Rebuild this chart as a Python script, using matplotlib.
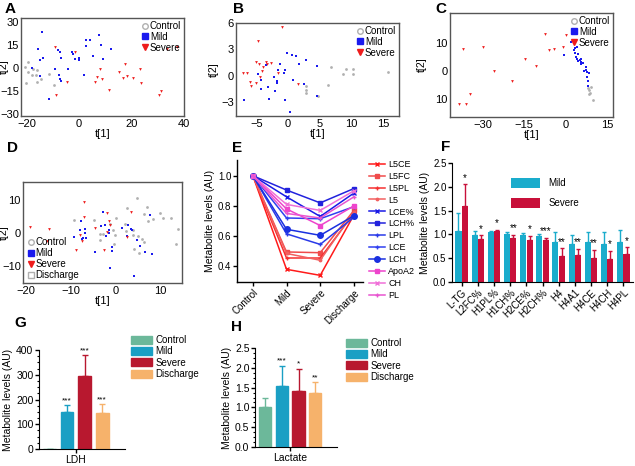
import numpy as np
import matplotlib
matplotlib.use("Agg")
import matplotlib.pyplot as plt
from matplotlib.lines import Line2D
from matplotlib.patches import Patch

# ---- data: score plots (t[1], t[2]) ----
a_ctrl_x = [-20.6, -19.6, -19.6, -20.3, -17.8, -16.3, -15.9, -15.9, -14.4, -11.6, -9.6, -17.5]
a_ctrl_y = [1.1, 4.4, -2.6, -9.8, -4.4, -4.4, -1.1, -8.7, -7.2, -3.7, -10.9, -0.7]
a_mild_x = [-14, -15.75, -13.6, -15, -17.75, -14.9, -9, -8, -7.1, -7, -7.75, -7.1, -6.9, -4.1, -2.75,
            -2.25, -1.5, -0.1, 0.1, 1.9, 2.6, 2.75, 4, 5.5, 7.75, 8.5, 9.25, 12.25, -11.5]
a_mild_y = [24, 12.7, 7.0, 5.5, 0, -4.8, -0.2, 12.0, 10.9, 7.0, -4.6, -7.2, -7.9, -0.4, 10.9,
            9.2, 6.1, 6.6, 5.5, -4.6, 18.6, 14.6, 18.6, 8.3, 21.8, 15.3, 6.3, 12.7, -20.1]
a_sev_x = [-9.1, -1.5, -4.4, -8.6, 6.25, 7, 8.1, 8.9, 11.4, 15.25, 16.9, 17.5, 18.25, 20.5, 23.1,
           23.75, 30.5, 31.25, 33.4, 37.5]
a_sev_y = [14.2, 10.5, -9.0, -17.5, -8.7, -5.5, -0.4, -7.0, -14.0, -2.2, -6.3, 2.8, -5.2, -6.3, -0.2,
           -9.6, -17.5, -14.6, 12.9, 14.0]

b_ctrl_x = [2.9, 2.8, 2.9, 4.7, 6.3, 6.8, 8.7, 9.2, 10.3, 10.3, 15.8]
b_ctrl_y = [-1.2, -1.6, -2.0, -2.3, -1.1, 1.0, 0.15, 0.7, 0.8, 0.15, 0.4]
b_mild_x = [-6.9, -4.8, -4.2, -4.2, -3.5, -3.2, -3.0, -2.2, -1.8, -1.7, -1.5, -1.3, -0.6, -0.5, -0.4,
            -0.1, 0.3, 0.7, 1.2, 1.8, 0.8, 2.8, 2.5, 4.5, 4.5, -2.0]
b_mild_y = [-2.8, 0.2, -0.45, -1.5, 1.2, -1.35, -2.7, -0.1, -0.8, -0.6, 0.6, 1.35, 0.25, -2.8, 0.6,
            2.6, -4.1, 2.3, 2.2, 1.35, -0.55, 1.8, -0.9, 1.05, -2.3, -1.8]
b_sev_x = [-0.9, -4.8, -7.1, -6.4, -6.05, -5.9, -5.0, -5.0, -4.6, -4.4, -4.05, -3.9, -3.4, -3.3, -2.7,
           -1.6, 1.6]
b_sev_y = [5.5, 4.0, 0.3, 0.3, -0.7, -1.2, -0.8, 1.5, 1.35, -0.15, 0.5, 1.0, 1.5, 1.3, 1.4, 0.3, -0.9]

c_ctrl_x = [8.0, 8.4, 8.6, 8.2, 9.8, 8.9]
c_ctrl_y = [-6.2, -6.8, -7.7, -8.3, -10.4, -5.8]
c_mild_x = [2.0, -0.7, 2.9, 3.2, 3.4, 3.6, 4.1, 4.4, 5.0, 5.6, 5.4, 6.2, 7.1, 7.4, 6.6, 7.7, 8.3, 7.8,
            8.0, 8.0, 4.4, 4.1, 5.6]
c_mild_y = [10.4, 5.6, 7.6, 8.4, 6.4, 5.2, 4.3, 3.7, 4.0, 3.4, 2.6, 2.8, 1.6, 0.4, 0.2, -0.2, -0.8, -2.0,
            -3.5, -5.3, 6.2, 8.8, 4.5]
c_sev_x = [-37, -29.8, -25.9, -19.6, -14.8, -10.9, -7.6, -6.0, -4.3, -1.0, -0.1, -34.6, -36.0, -38.5]
c_sev_y = [7.8, 8.6, 0.2, -3.4, 4.4, 2.0, 13.2, 7.4, 8.0, 8.6, 12.8, -8.0, -11.8, -11.9]

d_grey_x = [-9.25, -4.85, -3.4, -1.3, -0.5, -0.15, 0.1, 2.1, 2.3, 2.6, 3.8, 3.8, 4.7, 4.9, 4.0, 5.1,
            5.8, 6.3, 6.9, 7.2, 6.3, 8.4, 9.9, 10.5, 12.4, 13.8, 13.4, -3.5, -0.3, -2.8]
d_grey_y = [4.0, 4.0, -2.0, 2.8, 1.0, -0.7, 4.6, 2.8, 0.6, 7.4, 1.0, -0.7, 10.6, -0.9, -4.7, -5.9,
            -1.9, 5.8, 7.8, 3.5, -2.7, 4.3, 6.0, 4.5, 4.6, 1.1, -3.2, -0.4, -3.2, -0.2]
d_mild_x = [-9.25, -8.0, -7.8, -7.6, -6.9, -6.9, -7.4, -6.7, -4.6, -3.3, -2.9, -2.4, -2.2, -1.4, -1.4,
            -1.3, -0.9, -0.9, 1.3, 2.8, 2.5, 3.4, 3.6, 4.7, 5.4, 6.6, 7.7, 8.2, 4.0]
d_mild_y = [-1.3, 0.8, 3.5, -1.9, 1.1, 0, -1.5, -1.5, -5.7, 2.0, 6.3, 2.3, -1.0, 1.0, 0,
            -10.5, -4.2, -5.5, 1.6, 2.3, -0.9, 1.3, 1.0, -2.2, -3.9, -5.7, 5.3, -6.2, -13.0]
d_sev_x = [-19.2, -14.85, -15.4, -8.9, -8.0, -7.0, -7.0, -7.5, -4.6, -2.6, -2.0, -1.6, -1.3, -1.9, 2.5, 3.4]
d_sev_y = [1.8, 1.3, -2.5, -5.2, -0.7, 9.3, 4.8, -2.4, 1.5, -5.2, 6.0, 3.6, 2.5, 0.3, -1.2, 6.3]

# ---- data: panel E ----
e_groups = ["Control", "Mild", "Severe", "Discharge"]
e_names = ["L5CE", "L5FC", "L5PL", "L5", "LCE%", "LCH%", "LPL", "LCE", "LCH", "ApoA2", "CH", "PL"]
e_values = {
    "L5CE": [1.0, 0.38, 0.34, 0.74],
    "L5FC": [1.0, 0.495, 0.49, 0.77],
    "L5PL": [1.0, 0.455, 0.455, 0.75],
    "L5": [1.0, 0.485, 0.44, 0.76],
    "LCE%": [1.0, 0.86, 0.73, 0.885],
    "LCH%": [1.0, 0.905, 0.82, 0.915],
    "LPL": [1.0, 0.615, 0.545, 0.725],
    "LCE": [1.0, 0.72, 0.715, 0.795],
    "LCH": [1.0, 0.645, 0.605, 0.735],
    "ApoA2": [1.0, 0.78, 0.67, 0.80],
    "CH": [1.0, 0.81, 0.77, 0.90],
    "PL": [1.0, 0.75, 0.72, 0.86],
}

# ---- data: panel F ----
f_labels = ["L-TG", "L2FC%", "H1PL%", "H1CH%", "H2CE%", "H2CH%", "H4", "H4A1", "H4CE", "H4CH", "H4PL"]
f_mild = [1.07, 0.98, 1.04, 1.00, 0.98, 0.96, 0.83, 0.80, 0.83, 0.80, 0.84]
f_mild_top = [1.46, 1.08, 1.08, 1.05, 1.03, 1.00, 1.06, 0.98, 1.06, 1.06, 1.09]
f_sev = [1.60, 0.91, 1.08, 0.92, 0.88, 0.88, 0.55, 0.56, 0.51, 0.49, 0.58]
f_sev_top = [2.05, 0.98, 1.10, 0.99, 0.97, 0.93, 0.71, 0.70, 0.68, 0.66, 0.73]
f_stars = ["*", "*", "*", "**", "*", "***", "**", "**", "**", "*", "*"]

# ---- data: panels G, H ----
groups = ["Control", "Mild", "Severe", "Discharge"]
g_vals = [2, 150, 295, 145]
g_top = [2, 178, 380, 180]
g_stars = ["", "***", "***", "***"]
h_vals = [1.0, 1.55, 1.41, 1.37]
h_top = [1.23, 2.05, 1.98, 1.63]
h_stars = ["", "***", "*", "**"]

W, H = 635, 466
fig = plt.figure(figsize=(W / 100, H / 100), dpi=100)
plt.rcParams['font.family'] = ['Liberation Sans', 'DejaVu Sans']


def ax_px(l, t, r, b):
    return fig.add_axes([l / W, 1 - b / H, (r - l) / W, (b - t) / H])


def letter(x, y, s):
    fig.text(x / W, 1 - y / H, s, fontsize=11, fontweight='bold', ha='center', va='center')


GREY = '#b0b0b0'
BLUE = '#1a1aee'
RED = '#ee1c1c'


def score_plot(ax, groups_xy, xlim, ylim, xticks, yticks, ylab_x, ytl=None, legend_loc='upper right',
               discharge=False):
    for (xs, ys, c, m) in groups_xy:
        ax.scatter(xs, ys, s=4, c=c, marker=m, linewidths=0)
    ax.set_xlim(xlim)
    ax.set_ylim(ylim)
    ax.set_xticks(xticks)
    ax.set_yticks(yticks)
    if ytl is not None:
        ax.set_yticklabels(ytl)
    ax.tick_params(labelsize=8, length=0, pad=2)
    ax.tick_params(axis='y', pad=1.5)
    for sp in ax.spines.values():
        sp.set_color('#555555')
        sp.set_linewidth(1.0)
    ax.set_xlabel('t[1]', fontsize=8, labelpad=0)
    ax.set_ylabel('t[2]', fontsize=7.5)
    ax.yaxis.set_label_coords(ylab_x, 0.5)
    hs = [Line2D([], [], ls='none', marker='o', mfc='none', mec=GREY, ms=4, label='Control'),
          Line2D([], [], ls='none', marker='s', color=BLUE, ms=4, label='Mild'),
          Line2D([], [], ls='none', marker='v', color=RED, ms=4, label='Severe')]
    if discharge:
        hs.append(Line2D([], [], ls='none', marker='s', mfc='none', mec=GREY, ms=4, label='Discharge'))
    ax.legend(handles=hs, loc=legend_loc, fontsize=7, frameon=False, handletextpad=0.0,
              borderpad=0.2, labelspacing=0.1, handlelength=1.0, borderaxespad=0.1)


# A
ax = ax_px(21, 18, 184, 116)
score_plot(ax, [(a_ctrl_x, a_ctrl_y, GREY, 'o'), (a_mild_x, a_mild_y, BLUE, 's'),
                (a_sev_x, a_sev_y, RED, 'v')],
           (-22.1, 39.1), (-31, 32.8), [-20, 0, 20, 40], [-30, -15, 0, 15, 30], -0.075)
letter(10, 9, 'A')

# B
ax = ax_px(236, 23, 399, 116)
score_plot(ax, [(b_ctrl_x, b_ctrl_y, GREY, 'o'), (b_mild_x, b_mild_y, BLUE, 's'),
                (b_sev_x, b_sev_y, RED, 'v')],
           (-8.2, 17.5), (-4.6, 6.0), [-5, 0, 5, 10, 15], [-3, 0, 3, 6], -0.105)
letter(239, 9, 'B')

# C
ax = ax_px(450, 13, 613, 117)
score_plot(ax, [(c_ctrl_x, c_ctrl_y, GREY, 'o'), (c_mild_x, c_mild_y, BLUE, 's'),
                (c_sev_x, c_sev_y, RED, 'v')],
           (-41.8, 17.0), (-16.4, 20.8), [-30, -15, 0, 15], [-10, 0, 10], -0.14,
           ytl=['10', '0', '10'])
letter(441, 9, 'C')

# D
ax = ax_px(23, 182, 182, 283)
score_plot(ax, [(d_grey_x, d_grey_y, GREY, 'o'), (d_mild_x, d_mild_y, BLUE, 's'),
                (d_sev_x, d_sev_y, RED, 'v')],
           (-20.7, 14.8), (-15, 15.3), [-20, -10, 0, 10], [-10, 0, 10], -0.088,
           legend_loc='lower left', discharge=True)
letter(12, 148, 'D')

# E
e_colors = {"L5CE": '#ff1a1a', "L5FC": '#f04b4b', "L5PL": '#f53030', "L5": '#f26060',
            "LCE%": '#1a1ae6', "LCH%": '#2222dd', "LPL": '#2a3ae8', "LCE": '#3040f0', "LCH": '#1a30e0',
            "ApoA2": '#ee44cc', "CH": '#f070d8', "PL": '#e855d0'}
e_markers = {"L5CE": 'x', "L5FC": 's', "L5PL": '+', "L5": '.', "LCE%": 'x', "LCH%": 's', "LPL": '+',
             "LCE": '+', "LCH": 'o', "ApoA2": 's', "CH": 'x', "PL": '+'}
ax = ax_px(237, 160, 363, 282)
xs = np.arange(len(e_groups))
for n in e_names:
    ax.plot(xs, e_values[n], color=e_colors[n], marker=e_markers[n], ms=3.5 if e_markers[n] != 'o' else 4,
            lw=1.1, mew=1.0, label=n)
ax.set_xlim(-0.47, 3.27)
ax.set_ylim(0.296, 1.104)
ax.set_yticks([0.4, 0.6, 0.8, 1.0])
ax.set_yticklabels(['0.4', '0.6', '0.8', '1.0'])
ax.set_xticks(xs)
ax.set_xticklabels(e_groups, rotation=45, ha='right', rotation_mode='anchor')
ax.tick_params(labelsize=7, length=3, width=1, pad=1)
ax.spines['top'].set_visible(False)
ax.spines['right'].set_visible(False)
ax.spines['left'].set_linewidth(1.0)
ax.spines['bottom'].set_linewidth(1.0)
ax.set_ylabel('Metabolite levels (AU)', fontsize=7.5, labelpad=2)
ax.legend(loc='upper left', bbox_to_anchor=(1.02, 1.03), fontsize=6.5, frameon=False,
          handlelength=1.8, labelspacing=0.32, borderaxespad=0, handletextpad=0.3)
letter(237, 148, 'E')

# F
MILD_C = '#1aaccc'
SEV_C = '#c8103a'
ax = ax_px(452, 163, 633, 282)
xf = np.arange(len(f_labels))
bw = 0.38
ax.bar(xf - bw / 2 - 0.01, f_mild, bw, color=MILD_C, label='Mild')
ax.bar(xf + bw / 2 + 0.01, f_sev, bw, color=SEV_C, label='Severe')
ax.errorbar(xf - bw / 2 - 0.01, f_mild, yerr=[np.zeros(len(f_mild)), np.array(f_mild_top) - np.array(f_mild)],
            fmt='none', ecolor=MILD_C, elinewidth=1, capsize=1.5)
ax.errorbar(xf + bw / 2 + 0.01, f_sev, yerr=[np.zeros(len(f_sev)), np.array(f_sev_top) - np.array(f_sev)],
            fmt='none', ecolor=SEV_C, elinewidth=1, capsize=1.5)
for i, s in enumerate(f_stars):
    ax.text(xf[i] + bw / 2, f_sev_top[i] + 0.03, s, ha='center', va='bottom', fontsize=7)
ax.set_xlim(-0.6, len(f_labels) - 0.4)
ax.set_ylim(0, 2.5)
ax.set_yticks([0, 0.5, 1.0, 1.5, 2.0, 2.5])
ax.set_xticks(xf)
ax.set_xticklabels(f_labels, rotation=45, ha='right', rotation_mode='anchor')
ax.tick_params(labelsize=7, length=3, width=1, pad=1)
ax.spines['top'].set_visible(False)
ax.spines['right'].set_visible(False)
ax.set_ylabel('Metabolite levels (AU)', fontsize=7.5, labelpad=2)
ax.legend(loc='upper right', bbox_to_anchor=(0.75, 0.95), fontsize=7, frameon=False,
          handlelength=3.0, handleheight=1.2, labelspacing=1.0, handletextpad=0.8)
letter(446, 147, 'F')

# G, H
bar_cols = ['#6cb89a', '#1a9fc4', '#b8182f', '#f6b26b']


def group_bars(ax, vals, tops, stars, ylim, yticks, xlabel, minor):
    xg = np.arange(len(vals))
    for i in range(len(vals)):
        ax.bar(xg[i], vals[i], 0.72, color=bar_cols[i], edgecolor=bar_cols[i])
        ax.errorbar(xg[i], vals[i], yerr=[[0], [tops[i] - vals[i]]], fmt='none', ecolor=bar_cols[i],
                    elinewidth=1, capsize=2)
        if stars[i]:
            ax.text(xg[i], tops[i] + ylim[1] * 0.01, stars[i], ha='center', va='bottom', fontsize=6)
    ax.set_xlim(-0.6, 4.3)
    ax.set_ylim(ylim)
    ax.set_yticks(yticks)
    ax.set_yticks(minor, minor=True)
    ax.set_xticks([1.5])
    ax.set_xticklabels([xlabel])
    ax.tick_params(labelsize=7.5, length=3, width=1, pad=1)
    ax.tick_params(which='minor', length=1.5, width=0.8)
    ax.spines['top'].set_visible(False)
    ax.spines['right'].set_visible(False)
    ax.set_ylabel('Metabolite levels (AU)', fontsize=7.5, labelpad=2)


ax = ax_px(39, 350, 125, 449)
group_bars(ax, g_vals, g_top, g_stars, (0, 400), [0, 100, 200, 300, 400], 'LDH',
           np.arange(0, 401, 25))
fig.legend(handles=[Patch(color=c, label=g) for c, g in zip(bar_cols, groups)],
           loc='upper left', bbox_to_anchor=(127 / W, 1 - 331 / H), fontsize=7, frameon=False,
           handlelength=2.2, handleheight=0.9, labelspacing=0.15, handletextpad=0.3, borderaxespad=0)
letter(20, 323, 'G')

ax = ax_px(255, 348, 337, 447)
group_bars(ax, h_vals, h_top, h_stars, (0, 2.5), [0, 0.5, 1.0, 1.5, 2.0, 2.5], 'Lactate',
           np.arange(0, 2.51, 0.125))
fig.legend(handles=[Patch(color=c, label=g) for c, g in zip(bar_cols, groups)],
           loc='upper left', bbox_to_anchor=(342 / W, 1 - 334 / H), fontsize=7, frameon=False,
           handlelength=2.2, handleheight=0.9, labelspacing=0.15, handletextpad=0.3, borderaxespad=0)
letter(237, 327, 'H')

fig.savefig('out.png', dpi=100)
